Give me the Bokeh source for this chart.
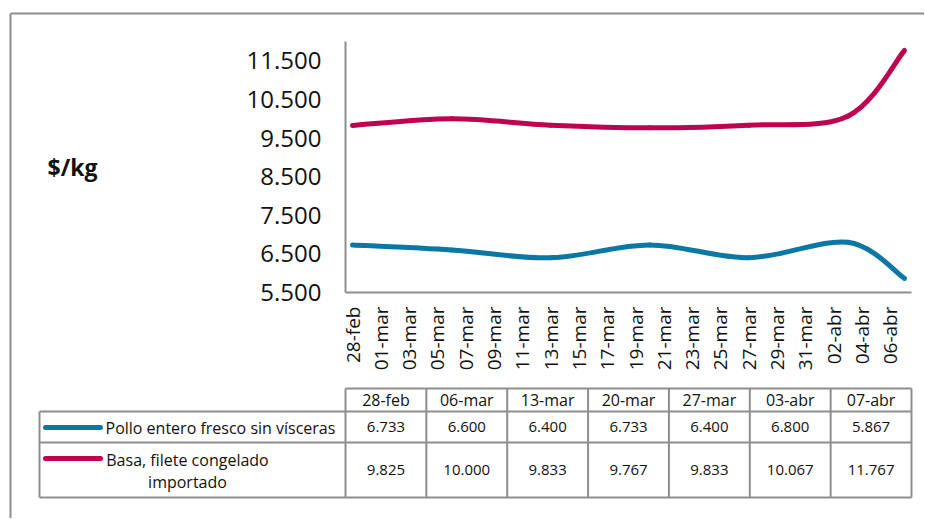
import math
import pandas as pd
from bokeh.plotting import figure
from bokeh.models import Range1d, FixedTicker
from bokeh.embed import file_html
from bokeh.resources import INLINE
from bokeh.core.properties import value

# ---------------- data ----------------
dates = ["2024-02-28", "2024-03-06", "2024-03-13", "2024-03-20",
         "2024-03-27", "2024-04-03", "2024-04-07"]
date_labels = ["28-feb", "06-mar", "13-mar", "20-mar", "27-mar", "03-abr", "07-abr"]
pollo = [6733, 6600, 6400, 6733, 6400, 6800, 5867]
basa = [9825, 10000, 9833, 9767, 9833, 10067, 11767]
series_names = ["Pollo entero fresco sin vísceras", "Basa, filete congelado\nimportado"]
axis_tick_labels = ["28-feb", "01-mar", "03-mar", "05-mar", "07-mar", "09-mar", "11-mar",
                    "13-mar", "15-mar", "17-mar", "19-mar", "21-mar", "23-mar", "25-mar",
                    "27-mar", "29-mar", "31-mar", "02-abr", "04-abr", "06-abr"]
y_ticks = [5500, 6500, 7500, 8500, 9500, 10500, 11500]
y_unit = "$/kg"

# ---------------- style ----------------
FONT = "Open Sans"
BLUE = "#0B77A4"
RED = "#BE0450"
GRID_GRAY = "#8E8E8E"
TXT = "#111111"

days = [(pd.Timestamp(d) - pd.Timestamp(dates[0])).days for d in dates]
X0, X1 = -0.5, days[-1] + 0.5
Y0, Y1 = 5500, 12000

# page geometry
PW, PH = 924, 518
OX, OY = 11, 14          # chart figure origin on page
W, HA = 905, 368
FR_L, FR_R, FR_T, FR_B = 345, 911, 41, 292


def fmt(v):
    return f"{v:,}".replace(",", ".")


def bezier_parts(xs, ys):
    n = len(xs)
    out = dict(x0=[], y0=[], x1=[], y1=[], cx0=[], cy0=[], cx1=[], cy1=[])
    for i in range(n - 1):
        a = i - 1 if i > 0 else i
        b = i + 2 if i + 2 < n else i + 1
        out["x0"].append(xs[i]); out["y0"].append(ys[i])
        out["x1"].append(xs[i + 1]); out["y1"].append(ys[i + 1])
        out["cx0"].append(xs[i] + (xs[i + 1] - xs[a]) / 6)
        out["cy0"].append(ys[i] + (ys[i + 1] - ys[a]) / 6)
        out["cx1"].append(xs[i + 1] - (xs[b] - xs[i]) / 6)
        out["cy1"].append(ys[i + 1] - (ys[b] - ys[i]) / 6)
    return out


# ---------------- background page: border, unit, table ----------------
t = figure(width=PW, height=PH, x_range=Range1d(0, PW), y_range=Range1d(PH, 0),
           output_backend="svg", toolbar_location=None, x_axis_type=None, y_axis_type=None,
           min_border=0, min_border_left=0, min_border_right=0, min_border_top=0,
           min_border_bottom=0)
t.outline_line_color = None
t.xgrid.visible = False
t.ygrid.visible = False

# outer chart border
t.segment(x0=[10, 10], y0=[13, 13], x1=[PW, 10], y1=[13, PH],
          line_color=GRID_GRAY, line_width=2)

# y unit
t.text(x=[47], y=[(FR_T + FR_B) / 2], text=[y_unit], text_font=value(FONT),
       text_font_size="23px", text_font_style="bold", text_color=TXT,
       text_align="left", text_baseline="middle")

ncol = len(date_labels)
cw = (FR_R - FR_L) / ncol
TL = 39
R_HEAD, R1, R2, R_END = 388, 411, 442, 497
xs_col = [FR_L + i * cw for i in range(ncol + 1)]
hy = [R_HEAD, R1, R2, R_END]
t.segment(x0=[FR_L, TL, TL, TL], y0=hy, x1=[FR_R] * 4, y1=hy,
          line_color=GRID_GRAY, line_width=2)
t.segment(x0=[TL] + xs_col, y0=[R1] + [R_HEAD] * len(xs_col),
          x1=[TL] + xs_col, y1=[R_END] * (len(xs_col) + 1),
          line_color=GRID_GRAY, line_width=2)

centers = [FR_L + (i + 0.5) * cw for i in range(ncol)]
t.text(x=centers, y=[(R_HEAD + R1) / 2] * ncol, text=date_labels, text_font=value(FONT),
       text_font_size="16px", text_color=TXT, text_align="center", text_baseline="middle")
t.text(x=centers, y=[(R1 + R2) / 2] * ncol, text=[fmt(v) for v in pollo], text_font=value(FONT),
       text_font_size="15px", text_color=TXT, text_align="center", text_baseline="middle")
t.text(x=centers, y=[(R2 + R_END) / 2] * ncol, text=[fmt(v) for v in basa], text_font=value(FONT),
       text_font_size="15px", text_color=TXT, text_align="center", text_baseline="middle")

# legend keys
t.segment(x0=[45, 45], y0=[427, 458], x1=[100, 100], y1=[427, 458],
          line_color=[BLUE, RED], line_width=5, line_cap="round")
# row labels
t.text(x=[105], y=[427], text=[series_names[0]], text_font=value(FONT), text_font_size="16px",
       text_color=TXT, text_align="left", text_baseline="middle")
lines2 = series_names[1].split("\n")
t.text(x=[187] * len(lines2), y=[459 + 22 * k for k in range(len(lines2))], text=lines2,
       text_font=value(FONT), text_font_size="16px", text_color=TXT,
       text_align="center", text_baseline="middle")

# ---------------- chart ----------------
p = figure(width=W, height=HA, x_range=Range1d(X0, X1), y_range=Range1d(Y0, Y1),
           output_backend="svg", toolbar_location=None,
           min_border_left=FR_L - OX, min_border_right=OX + W - FR_R,
           min_border_top=FR_T - OY, min_border_bottom=OY + HA - FR_B,
           styles={"position": "absolute", "left": f"{OX}px", "top": f"{OY}px"})
p.outline_line_color = None
p.border_fill_color = None
p.background_fill_color = None
p.xgrid.visible = False
p.ygrid.visible = False

for ys, col in [(pollo, BLUE), (basa, RED)]:
    p.bezier(line_color=col, line_width=5, line_cap="round", **bezier_parts(days, ys))

p.xaxis.ticker = FixedTicker(ticks=list(range(0, 2 * len(axis_tick_labels), 2)))
p.xaxis.major_label_overrides = {2 * i: lab for i, lab in enumerate(axis_tick_labels)}
p.xaxis.major_label_orientation = math.pi / 2
p.xaxis.major_label_standoff = 14
p.yaxis.ticker = FixedTicker(ticks=y_ticks)
p.yaxis.major_label_overrides = {v: fmt(v) for v in y_ticks}
p.yaxis.major_label_standoff = 24
for ax in (p.xaxis, p.yaxis):
    ax.major_tick_out = 0
    ax.major_tick_in = 0
    ax.minor_tick_out = 0
    ax.minor_tick_in = 0
    ax.axis_line_color = GRID_GRAY
    ax.axis_line_width = 2
    ax.major_label_text_font = FONT
    ax.major_label_text_color = TXT
p.xaxis.major_label_text_font_size = "19px"
p.yaxis.major_label_text_font_size = "24px"

open("out.html", "w").write(file_html([t, p], INLINE))
